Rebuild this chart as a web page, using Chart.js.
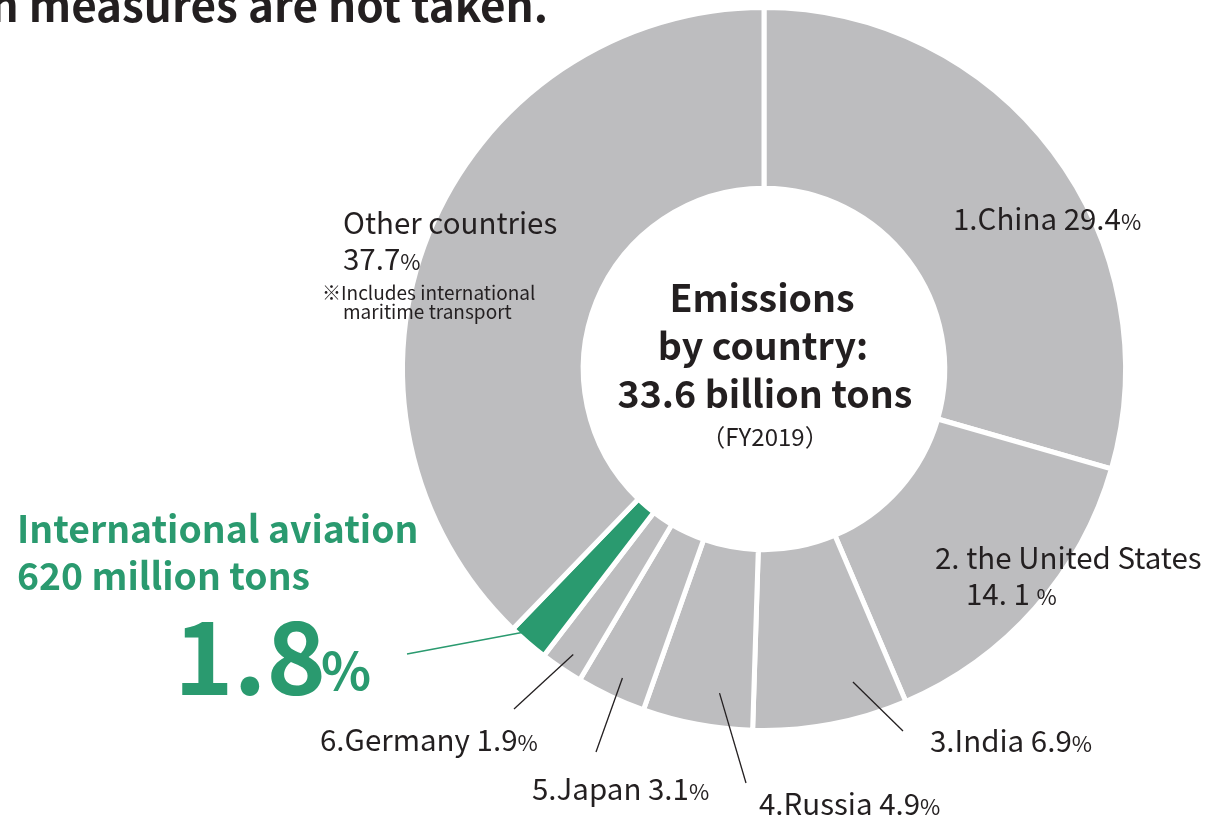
<!DOCTYPE html>
<html>
<head>
<meta charset="utf-8">
<script src="https://cdn.jsdelivr.net/npm/chart.js@4.4.1/dist/chart.umd.min.js"></script>
<style>
  html, body { margin: 0; padding: 0; background: #fff; }
  #wrap { width: 1214px; height: 827px; position: relative; }
</style>
</head>
<body>
<div id="wrap"><canvas id="emissionsChart" width="1214" height="827"></canvas></div>
<script>
// DATA
var countries = ['1.China', '2. the United States', '3.India', '4.Russia', '5.Japan', '6.Germany', 'International aviation', 'Other countries'];
var shares = [29.4, 14.1, 6.9, 4.9, 3.1, 1.9, 1.8, 37.7];
var sliceColors = ['#bdbdbf', '#bdbdbf', '#bdbdbf', '#bdbdbf', '#bdbdbf', '#bdbdbf', '#2a9a6f', '#bdbdbf'];

var FONT = '"Noto Sans CJK JP", "Noto Sans", sans-serif';
var INK = '#231f20';
var GREEN = '#2a9a6f';

// draw a row of text pieces one after another: [text, size, weight]
function runs(ctx, x, y, parts, color) {
    ctx.fillStyle = color || INK;
    ctx.textBaseline = 'alphabetic';
    ctx.textAlign = 'left';
    parts.forEach(function(p){
        ctx.font = (p[2] || 'normal') + ' ' + p[1] + 'px ' + FONT;
        ctx.fillText(p[0], x, y);
        x += ctx.measureText(p[0]).width;
    });
}

function centred(ctx, x, y, text, size, weight) {
    ctx.fillStyle = INK;
    ctx.textAlign = 'center';
    ctx.textBaseline = 'alphabetic';
    ctx.font = weight + ' ' + size + 'px ' + FONT;
    ctx.fillText(text, x, y);
}

// leader lines: slice index, where along the slice (0..1), radius fraction, label end point
var leaders = [
    {i: 2, f: 0.29, r: 0.90, to: [903, 731], color: INK, w: 1.3},
    {i: 3, f: 0.34, r: 0.905, to: [746, 783], color: INK, w: 1.3},
    {i: 4, f: 0.46, r: 0.94, to: [596, 752], color: INK, w: 1.3},
    {i: 5, f: 0.45, r: 0.95, to: [514, 709], color: INK, w: 1.3},
    {i: 6, f: 0.78, r: 0.99, to: [407, 654], color: GREEN, w: 1.5}
];

var T = 29.5, P = 22; // label size, small % size

var labelPlugin = {
    id: 'labels',
    afterDraw: function(chart) {
        var ctx = chart.ctx;
        var meta = chart.getDatasetMeta(0);
        ctx.save();

        leaders.forEach(function(l){
            var arc = meta.data[l.i].getProps(['x', 'y', 'startAngle', 'endAngle', 'outerRadius'], true);
            var a = arc.startAngle + (arc.endAngle - arc.startAngle) * l.f;
            var r = arc.outerRadius * l.r;
            ctx.beginPath();
            ctx.strokeStyle = l.color;
            ctx.lineWidth = l.w;
            ctx.moveTo(arc.x + Math.cos(a) * r, arc.y + Math.sin(a) * r);
            ctx.lineTo(l.to[0], l.to[1]);
            ctx.stroke();
        });

        // heading (cut at the top edge)
        ctx.fillStyle = INK;
        ctx.textAlign = 'right';
        ctx.font = 'bold 44px ' + FONT;
        ctx.fillText('when measures are not taken.', 548, 22);

        runs(ctx, 953, 230, [['1.China 29.4', T], ['%', P]]);
        runs(ctx, 935, 569, [['2. the United States', T]]);
        runs(ctx, 966, 605, [['14. 1 ', T], ['%', P]]);
        runs(ctx, 930, 752, [['3.India 6.9', T], ['%', P]]);
        runs(ctx, 759, 815, [['4.Russia 4.9', T], ['%', P]]);
        runs(ctx, 532, 800, [['5.Japan 3.1', T], ['%', P]]);
        runs(ctx, 320, 751, [['6.Germany 1.9', T], ['%', P]]);

        runs(ctx, 343, 234, [['Other countries', T]]);
        runs(ctx, 343, 270, [['37.7', T], ['%', P]]);
        runs(ctx, 322, 300, [['※Includes international', 19]]);
        runs(ctx, 343, 319, [['maritime transport', 19]]);

        centred(ctx, 762, 312, 'Emissions', 37.5, 'bold');
        centred(ctx, 763, 360, 'by country:', 37.5, 'bold');
        centred(ctx, 765, 408, '33.6 billion tons', 37.5, 'bold');
        centred(ctx, 765, 446, '（FY2019）', 24, 'normal');

        runs(ctx, 17, 543, [['International aviation', 37.3, 'bold']], GREEN);
        runs(ctx, 17, 590, [['620 million tons', 37.3, 'bold']], GREEN);
        runs(ctx, 174, 695, [['1.8', 101, 'bold']], GREEN);
        runs(ctx, 321, 690, [['%', 52, 'bold']], GREEN);

        ctx.restore();
    }
};

var ctx_donut = document.getElementById('emissionsChart').getContext('2d');

var myDonutChart = new Chart(ctx_donut, {
    type: 'doughnut',
    data: {
        labels: countries,
        datasets: [{
            data: shares,
            backgroundColor: sliceColors,
            borderColor: '#ffffff',
            borderWidth: 5,
            hoverOffset: 0
        }]
    },
    options: {
        responsive: false,
        animation: false,
        radius: 361.5,
        cutout: '50%',
        layout: {padding: {left: 400, right: 86, top: 5, bottom: 94}},
        plugins: {
            legend: {display: false},
            tooltip: {enabled: false}
        }
    },
    plugins: [labelPlugin]
});
</script>
</body>
</html>
